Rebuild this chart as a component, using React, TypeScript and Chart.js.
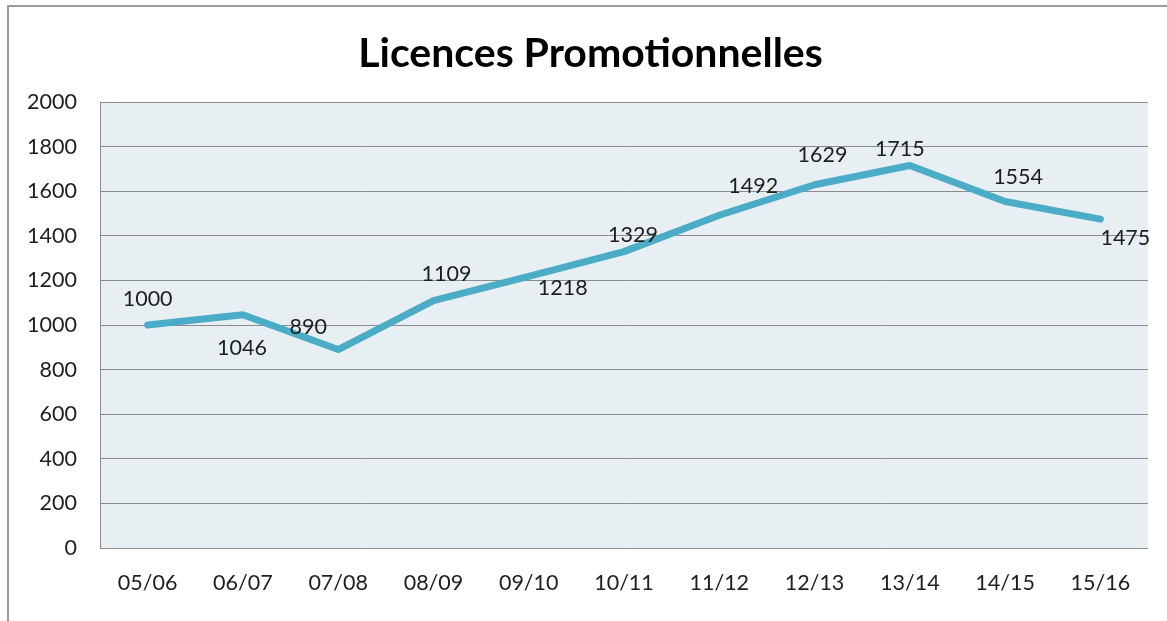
import React, { useEffect, useRef } from "react";
import { Chart, registerables } from "chart.js";

Chart.register(...registerables);

const categories = ["05/06", "06/07", "07/08", "08/09", "09/10", "10/11", "11/12", "12/13", "13/14", "14/15", "15/16"];
const licences = [1000, 1046, 890, 1109, 1218, 1329, 1492, 1629, 1715, 1554, 1475];
const chartTitle = "Licences Promotionnelles";
const yMin = 0;
const yMax = 2000;
const yStep = 200;
// label placement offsets (dx, dy) relative to each point, in pixels
const labelDx = [0, -1, -30, 13, 34, 9, 34, 8, -10, 13, 25];
const labelDy = [-26, 33, -22, -27, 12, -17, -29, -30, -16, -24, 19];

const FONT = "Lato, 'Open Sans', sans-serif";

const frameAndBg = {
  id: "frameAndBg",
  beforeDraw(chart: any) {
    const { ctx, chartArea, width, height } = chart;
    ctx.save();
    ctx.fillStyle = "#ffffff";
    ctx.fillRect(0, 0, width, height);
    ctx.strokeStyle = "#9a9a9a";
    ctx.lineWidth = 2;
    ctx.beginPath();
    ctx.moveTo(8, height + 2);
    ctx.lineTo(8, 6);
    ctx.lineTo(width + 2, 6);
    ctx.stroke();
    ctx.fillStyle = "#e8eff3";
    ctx.fillRect(chartArea.left, chartArea.top, chartArea.right - chartArea.left, chartArea.bottom - chartArea.top);
    ctx.restore();
  },
  afterDraw(chart: any) {
    const { ctx } = chart;
    ctx.save();
    ctx.font = `bold 41px ${FONT}`;
    ctx.fillStyle = "#000000";
    ctx.textAlign = "center";
    ctx.textBaseline = "middle";
    ctx.fillText(chartTitle, 590.5, 54);
    ctx.restore();
  },
};

const valueLabels = {
  id: "valueLabels",
  afterDatasetsDraw(chart: any) {
    const { ctx } = chart;
    const meta = chart.getDatasetMeta(0);
    const data = chart.data.datasets[0].data;
    ctx.save();
    ctx.font = `21.5px ${FONT}`;
    ctx.fillStyle = "#1e1e1e";
    ctx.textAlign = "center";
    ctx.textBaseline = "middle";
    meta.data.forEach((pt: any, i: number) => {
      ctx.fillText(String(data[i]), pt.x + labelDx[i], pt.y + labelDy[i]);
    });
    ctx.restore();
  },
};

export default function App() {
  const ref = useRef<HTMLCanvasElement | null>(null);
  useEffect(() => {
    if (!ref.current) return;
    const chart = new Chart(ref.current, {
      type: "line",
      data: {
        labels: categories,
        datasets: [
          {
            data: licences,
            borderColor: "#4aacc6",
            borderWidth: 7,
            pointRadius: 0,
            tension: 0,
            borderCapStyle: "round",
            borderJoinStyle: "round",
          },
        ],
      },
      options: {
        animation: false,
        responsive: false,
        layout: { padding: { left: 0, right: 19, top: 102, bottom: 0 } },
        plugins: {
          legend: { display: false },
          tooltip: { enabled: false },
          title: { display: false },
        },
        scales: {
          x: {
            offset: true,
            grid: { display: false, drawTicks: false },
            border: { display: false },
            ticks: { color: "#1e1e1e", font: { family: FONT, size: 21.5 }, padding: 22, maxRotation: 0 },
            afterFit(scale: any) {
              scale.height = 73;
            },
          },
          y: {
            min: yMin,
            max: yMax,
            grid: { color: "#8c8c8c", lineWidth: 1, drawTicks: false },
            border: { display: true, color: "#8c8c8c", width: 1 },
            ticks: {
              stepSize: yStep,
              color: "#1e1e1e",
              font: { family: FONT, size: 21.5 },
              padding: 23,
              callback: (v: any) => String(v),
            },
            afterFit(scale: any) {
              scale.width = 100;
            },
          },
        },
      },
      plugins: [frameAndBg, valueLabels],
    });
    return () => chart.destroy();
  }, []);
  return (
    <div style={{ position: "fixed", left: 0, top: 0, width: 1167, height: 621, overflow: "hidden", background: "#fff" }}>
      <canvas ref={ref} width={1167} height={621} style={{ width: 1167, height: 621, display: "block" }} />
    </div>
  );
}
